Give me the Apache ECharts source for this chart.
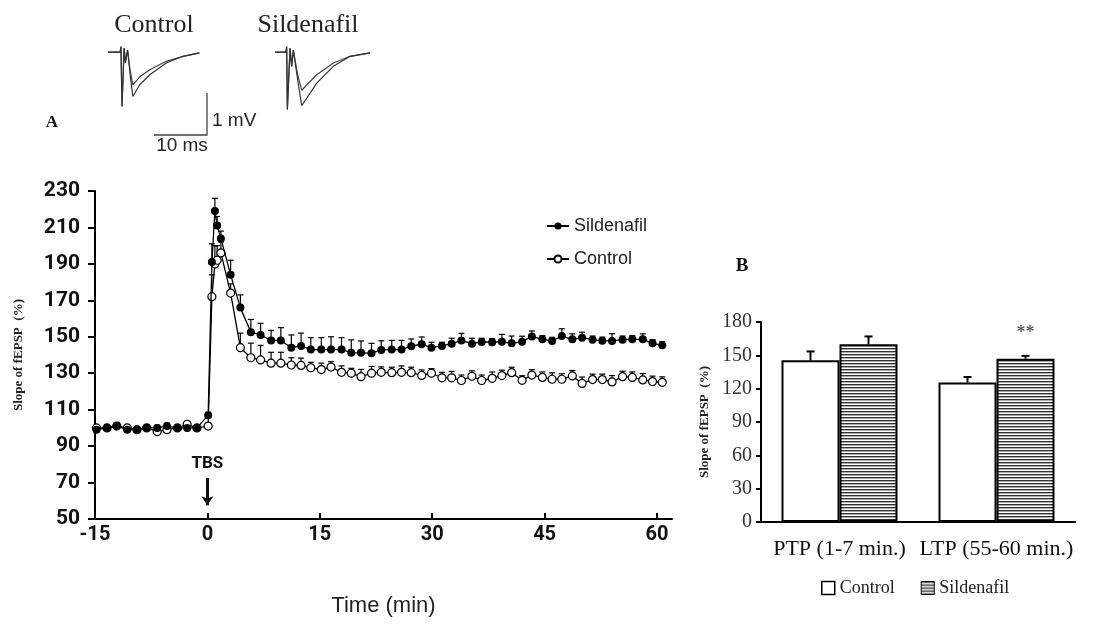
<!DOCTYPE html>
<html>
<head>
<meta charset="utf-8">
<script src="https://cdn.jsdelivr.net/npm/echarts@6/dist/echarts.min.js"></script>
<style>
  html, body { margin: 0; padding: 0; background: #fff; }
  #main { width: 1104px; height: 634px; }
</style>
</head>
<body>
<div id="main"></div>
<script>
// ---------- panel A : slope of fEPSP vs time ----------
const timeMin = [-14.8, -13.4, -12.1, -10.7, -9.4, -8.1, -6.7, -5.4, -4.0, -2.7, -1.4, 0.1,
  0.6, 1.0, 1.3, 1.8,
  3.1, 4.4, 5.8, 7.1, 8.5, 9.8, 11.2, 12.5, 13.8, 15.2, 16.5, 17.9, 19.2, 20.5, 21.9, 23.2,
  24.6, 25.9, 27.2, 28.6, 29.9, 31.3, 32.6, 33.9, 35.3, 36.6, 38.0, 39.3, 40.6, 42.0, 43.3,
  44.7, 46.0, 47.3, 48.7, 50.0, 51.4, 52.7, 54.0, 55.4, 56.7, 58.1, 59.4, 60.7]

const sildenafil = [99, 100, 101, 99, 99, 100, 100, 101, 100, 100, 100, 107,
  191, 219, 211, 204,
  184, 166, 152.5, 151, 148, 148, 144, 145, 143, 143, 143, 143, 141.3, 141.2, 141, 142.8,
  143, 143, 144.8, 145.9, 144, 145, 146.2, 147.9, 146.2, 147.2, 147, 147.3, 146.4, 147.3,
  150.2, 148.6, 147.7, 150.4, 148.6, 149.5, 148.4, 147.8, 147.7, 148.4, 148.6, 148.6, 146.4, 145.3]
const sildenafilErr = [1.5, 1.5, 1.5, 1.5, 1.5, 1.5, 1.5, 1.5, 1.5, 1.5, 1.5, 1.5,
  10, 7, 5, 4,
  8, 7, 7, 6.4, 5.5, 7, 7, 7, 6.5, 6.5, 7, 6.5, 7, 6.5, 5.4, 5,
  5, 5, 4, 4, 3, 2, 3, 4, 3, 2, 2, 4, 4, 3,
  3, 2, 2, 4, 3, 3, 2, 2, 4, 2, 2, 3, 2, 2]

const control = [100, 100, 101, 100, 99, 100, 98, 99, 100, 102, 100, 101,
  172, 190, 192, 196,
  174, 144, 138.5, 137.3, 135.5, 135.5, 134.5, 134.3, 133, 132, 133.4, 130.5, 130, 128.1, 130, 130.5,
  130.3, 130.5, 130.3, 128.8, 130, 127.5, 127.5, 126, 128.3, 126, 127.2, 128.7, 130.3, 126.1,
  129, 127.7, 126.7, 126.7, 128.5, 124.4, 126.5, 126.5, 125.2, 128.1, 127.7, 126.3, 125.4, 125]
const controlErr = [1.5, 1.5, 1.5, 1.5, 1.5, 1.5, 1.5, 1.5, 1.5, 1.5, 1.5, 1.5,
  12, 10, 8, 6,
  5, 8, 8, 8, 6, 6, 4, 4, 3, 3.5, 3, 3.5, 2.7, 4, 3.7, 3,
  3, 3.5, 3, 3, 2.5, 3, 3.5, 3, 3, 3, 3.5, 3, 3, 2.5,
  3, 3, 3.5, 3, 3, 3.5, 3, 3, 3.5, 3, 3, 3.5, 3, 3]

const timeTicks = [-15, 0, 15, 30, 45, 60]
const slopeTicks = [50, 70, 90, 110, 130, 150, 170, 190, 210, 230]

// ---------- panel B : PTP / LTP bars ----------
const periods = ['PTP (1-7 min.)', 'LTP (55-60 min.)']
const barControl = [145.5, 125.5]
const barControlErr = [8, 5]
const barSildenafil = [160, 147]
const barSildenafilErr = [7, 2.5]
const barSig = ['', '**']

// ---------- sample traces (ms, mV) ----------
const ctrlTraceT = [0, 2.3, 2.45, 2.65, 3.05, 3.3, 3.7, 4.2, 4.7, 6.0, 7.9, 11.0, 14.2, 17.3]
const ctrlTraceBefore = [0, 0, 0.13, -1.3, 0.1, -0.25, 0.05, -0.45, -0.78, -0.59, -0.42, -0.22, -0.1, -0.02]
const ctrlTraceAfter = [0, 0, 0.13, -1.3, 0.1, -0.25, 0.05, -0.55, -1.06, -0.78, -0.54, -0.26, -0.1, -0.02]
const sildTraceT = [0, 2.08, 2.2, 2.33, 2.83, 3.14, 3.46, 4.2, 5.03, 7.86, 11.0, 14.15, 17.9]
const sildTraceBefore = [0, 0, 0.13, -1.37, 0.09, -0.34, 0.05, -0.5, -0.91, -0.54, -0.26, -0.1, -0.02]
const sildTraceAfter = [0, 0, 0.13, -1.37, 0.09, -0.34, 0.05, -0.6, -1.28, -0.74, -0.34, -0.1, -0.02]

const narrow = 'Roboto, "Liberation Sans", sans-serif'
const serif = '"Liberation Serif", "DejaVu Serif", serif'
const sans = '"Liberation Sans", Arial, sans-serif'

// horizontal stripes for the sildenafil bars
const stripe = document.createElement('canvas')
stripe.width = 4
stripe.height = 3
const sctx = stripe.getContext('2d')
sctx.fillStyle = '#fff'
sctx.fillRect(0, 0, 4, 3)
sctx.fillStyle = '#333'
sctx.fillRect(0, 0, 4, 1)
sctx.fillStyle = '#aaa'
sctx.fillRect(0, 1, 4, 1)
const stripeFill = { image: stripe, repeat: 'repeat' }

function zip(xs, ys) {
  return xs.map((x, i) => [x, ys[i]])
}

// upward error bar (value -> value + err), dx shifts it onto a bar
function errBar(dx, cap, width) {
  return function (params, api) {
    const base = api.coord([api.value(0), api.value(1)])
    const top = api.coord([api.value(0), api.value(1) + api.value(2)])
    return {
      type: 'group',
      children: [
        { type: 'line', shape: { x1: base[0] + dx, y1: base[1], x2: top[0] + dx, y2: top[1] },
          style: { stroke: '#000', lineWidth: width } },
        { type: 'line', shape: { x1: top[0] + dx - cap, y1: top[1], x2: top[0] + dx + cap, y2: top[1] },
          style: { stroke: '#000', lineWidth: width } }
      ]
    }
  }
}

const barW = 58
const chart = echarts.init(document.getElementById('main'))

chart.setOption({
  animation: false,
  backgroundColor: '#fff',
  grid: [
    { left: 95, top: 191, width: 577, height: 328 },
    { left: 761, top: 322, width: 314, height: 200 },
    { left: 108, top: 45, width: 92, height: 67 },
    { left: 275, top: 45, width: 95, height: 67 }
  ],
  xAxis: [
    {
      gridIndex: 0, type: 'value', min: -15, max: 62,
      name: 'Time (min)', nameLocation: 'middle', nameGap: 76,
      nameTextStyle: { fontFamily: sans, fontSize: 22, color: '#222' },
      axisLine: { onZero: false, lineStyle: { color: '#000', width: 2 } },
      axisTick: { inside: true, length: 6, customValues: timeTicks, lineStyle: { color: '#000', width: 2 } },
      axisLabel: { customValues: timeTicks, margin: 6, fontFamily: narrow, fontWeight: 'bold', fontSize: 20, color: '#111' },
      splitLine: { show: false }
    },
    {
      gridIndex: 1, type: 'category', data: periods,
      axisLine: { lineStyle: { color: '#000', width: 2 } },
      axisTick: { length: 5, lineStyle: { color: '#000', width: 2 } },
      axisLabel: { interval: 0, margin: 16, fontFamily: serif, fontSize: 22, color: '#111' }
    },
    { gridIndex: 2, type: 'value', min: 0, max: 17.4, show: false },
    { gridIndex: 3, type: 'value', min: 0, max: 17.9, show: false }
  ],
  yAxis: [
    {
      gridIndex: 0, type: 'value', min: 50, max: 230, interval: 20,
      name: 'Slope of fEPSP  (%)', nameLocation: 'middle', nameGap: 70, nameRotate: 90,
      nameTextStyle: { fontFamily: serif, fontWeight: 'bold', fontSize: 13, color: '#222' },
      axisLine: { show: true, onZero: false, lineStyle: { color: '#000', width: 2 } },
      axisTick: { show: true, length: 7, customValues: slopeTicks, lineStyle: { color: '#000', width: 2 } },
      axisLabel: { customValues: slopeTicks, margin: 15, fontFamily: narrow, fontWeight: 'bold', fontSize: 21, color: '#111' },
      splitLine: { show: false }
    },
    {
      gridIndex: 1, type: 'value', min: 0, max: 180, interval: 30,
      name: 'Slope of fEPSP  (%)', nameLocation: 'middle', nameGap: 50, nameRotate: 90,
      nameTextStyle: { fontFamily: serif, fontWeight: 'bold', fontSize: 13, color: '#222' },
      axisLine: { show: true, lineStyle: { color: '#000', width: 2 } },
      axisTick: { show: true, length: 5, lineStyle: { color: '#000', width: 2 } },
      axisLabel: { margin: 9, fontFamily: serif, fontSize: 20, color: '#333' },
      splitLine: { show: false }
    },
    { gridIndex: 2, type: 'value', min: -1.43, max: 0.17, show: false },
    { gridIndex: 3, type: 'value', min: -1.43, max: 0.17, show: false }
  ],
  legend: [
    {
      data: ['Sildenafil', 'Control'],
      orient: 'vertical', left: 541, top: 212,
      itemWidth: 22, itemHeight: 9, itemGap: 15,
      textStyle: { fontFamily: sans, fontSize: 18, lineHeight: 18, color: '#222' }
    },
    {
      data: [
        { name: 'Control', icon: 'rect', itemStyle: { color: '#fff', borderColor: '#000', borderWidth: 1.5 } },
        { name: 'Sildenafil', icon: 'rect', itemStyle: { color: stripeFill, borderColor: '#000', borderWidth: 1 } }
      ],
      orient: 'horizontal', left: 816, top: 574,
      itemWidth: 13, itemHeight: 13, itemGap: 26,
      textStyle: { fontFamily: serif, fontSize: 18, color: '#222' }
    }
  ],
  graphic: [
    { type: 'text', x: 154, y: 25, style: { text: 'Control', font: '26px ' + serif, fill: '#222', align: 'center', verticalAlign: 'middle' } },
    { type: 'text', x: 308, y: 25, style: { text: 'Sildenafil', font: '26px ' + serif, fill: '#222', align: 'center', verticalAlign: 'middle' } },
    { type: 'text', x: 52, y: 123, style: { text: 'A', font: 'bold 17px ' + serif, fill: '#111', align: 'center', verticalAlign: 'middle' } },
    { type: 'text', x: 742, y: 266, style: { text: 'B', font: 'bold 19px ' + serif, fill: '#111', align: 'center', verticalAlign: 'middle' } },
    { type: 'polyline', shape: { points: [[154, 135], [207, 135], [207, 93]] }, style: { stroke: '#444', lineWidth: 1.3, fill: null } },
    { type: 'text', x: 212, y: 121, style: { text: '1 mV', font: '19px ' + sans, fill: '#222', verticalAlign: 'middle' } },
    { type: 'text', x: 182, y: 146, style: { text: '10 ms', font: '19px ' + sans, fill: '#222', align: 'center', verticalAlign: 'middle' } }
  ],
  series: [
    {
      name: 'Sildenafil', type: 'line', xAxisIndex: 0, yAxisIndex: 0, z: 5,
      data: zip(timeMin, sildenafil),
      symbol: 'circle', symbolSize: 8,
      lineStyle: { color: '#000', width: 1.3 },
      itemStyle: { color: '#000' },
      markPoint: {
        silent: true,
        data: [{ coord: [0, 80.2], symbol: 'circle', symbolSize: 0,
          label: { show: true, formatter: 'TBS', position: 'inside', fontFamily: narrow, fontWeight: 'bold', fontSize: 17, color: '#111' } }]
      },
      markLine: {
        silent: true, symbol: ['none', 'arrow'], symbolSize: 9,
        label: { show: false },
        lineStyle: { color: '#111', width: 3, type: 'solid' },
        data: [[{ coord: [0, 72.5] }, { coord: [0, 57.5] }]]
      }
    },
    {
      name: 'Control', type: 'line', xAxisIndex: 0, yAxisIndex: 0, z: 4,
      data: zip(timeMin, control),
      symbol: 'circle', symbolSize: 8,
      lineStyle: { color: '#000', width: 1.3 },
      itemStyle: { color: '#fff', borderColor: '#000', borderWidth: 1.2 }
    },
    {
      type: 'custom', xAxisIndex: 0, yAxisIndex: 0, z: 2,
      renderItem: errBar(0, 3, 1.2),
      encode: { x: 0, y: 1 },
      data: timeMin.map((t, i) => [t, sildenafil[i], sildenafilErr[i]])
    },
    {
      type: 'custom', xAxisIndex: 0, yAxisIndex: 0, z: 2,
      renderItem: errBar(0, 3, 1.2),
      encode: { x: 0, y: 1 },
      data: timeMin.map((t, i) => [t, control[i], controlErr[i]])
    },
    {
      name: 'Control', type: 'bar', xAxisIndex: 1, yAxisIndex: 1,
      data: barControl, barWidth: barW, barGap: '0%',
      itemStyle: { color: '#fff', borderColor: '#000', borderWidth: 2 }
    },
    {
      name: 'Sildenafil', type: 'bar', xAxisIndex: 1, yAxisIndex: 1,
      data: barSildenafil.map((v, i) => ({
        value: v,
        label: { show: barSig[i] !== '', position: 'top', distance: 16, formatter: barSig[i],
          fontFamily: serif, fontSize: 18, color: '#333' }
      })),
      barWidth: barW, barGap: '0%',
      itemStyle: { color: stripeFill, borderColor: '#000', borderWidth: 2 }
    },
    {
      type: 'custom', xAxisIndex: 1, yAxisIndex: 1, z: 3,
      renderItem: errBar(-barW / 2, 4, 2),
      encode: { x: 0, y: 1 },
      data: periods.map((p, i) => [i, barControl[i], barControlErr[i]])
    },
    {
      type: 'custom', xAxisIndex: 1, yAxisIndex: 1, z: 3,
      renderItem: errBar(barW / 2, 4, 2),
      encode: { x: 0, y: 1 },
      data: periods.map((p, i) => [i, barSildenafil[i], barSildenafilErr[i]])
    },
    // sample EPSP traces
    {
      type: 'line', xAxisIndex: 2, yAxisIndex: 2, symbol: 'none', silent: true,
      data: zip(ctrlTraceT, ctrlTraceBefore), lineStyle: { color: '#444', width: 1.2 }
    },
    {
      type: 'line', xAxisIndex: 2, yAxisIndex: 2, symbol: 'none', silent: true,
      data: zip(ctrlTraceT, ctrlTraceAfter), lineStyle: { color: '#333', width: 1.2 }
    },
    {
      type: 'line', xAxisIndex: 3, yAxisIndex: 3, symbol: 'none', silent: true,
      data: zip(sildTraceT, sildTraceBefore), lineStyle: { color: '#444', width: 1.2 }
    },
    {
      type: 'line', xAxisIndex: 3, yAxisIndex: 3, symbol: 'none', silent: true,
      data: zip(sildTraceT, sildTraceAfter), lineStyle: { color: '#333', width: 1.2 }
    }
  ]
})

window.onresize = function () {
  chart.resize()
}
</script>
</body>
</html>
